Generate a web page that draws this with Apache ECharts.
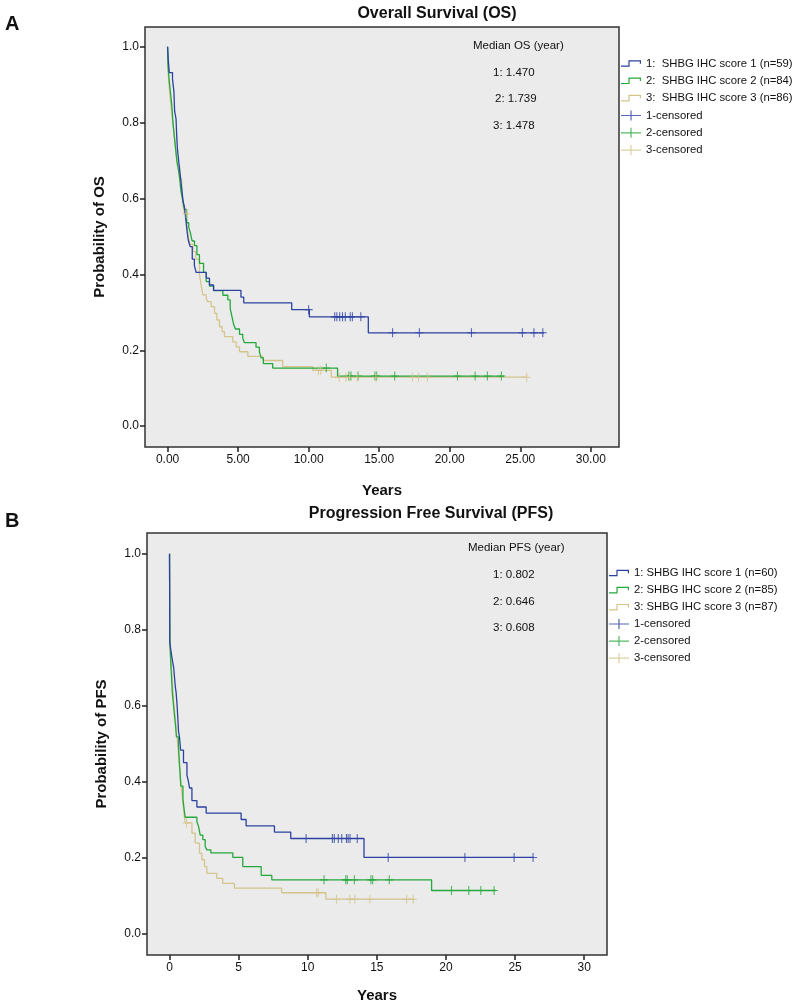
<!DOCTYPE html>
<html><head><meta charset="utf-8">
<script src="https://cdn.jsdelivr.net/npm/echarts@6/dist/echarts.min.js"></script>
<style>html,body{margin:0;padding:0;background:#fff}#c{width:794px;height:1007px}</style>
</head><body><div id="c"></div>
<script>
// ---------- DATA ----------
const groupNamesOS = ['1:  SHBG IHC score 1 (n=59)', '2:  SHBG IHC score 2 (n=84)', '3:  SHBG IHC score 3 (n=86)'];
const groupNamesPFS = ['1: SHBG IHC score 1 (n=60)', '2: SHBG IHC score 2 (n=85)', '3: SHBG IHC score 3 (n=87)'];
const censorNames = ['1-censored', '2-censored', '3-censored'];
const medianOS = ['1: 1.470', '2: 1.739', '3: 1.478'];
const medianPFS = ['1: 0.802', '2: 0.646', '3: 0.608'];
const xTicks = [0, 5, 10, 15, 20, 25, 30];
const yTicks = [0, 0.2, 0.4, 0.6, 0.8, 1.0];

// Overall survival: [years, survival probability]
const osBlue = [[0,1.0],[0.05,0.966],[0.12,0.932],[0.35,0.915],[0.45,0.881],[0.5,0.83],[0.6,0.81],[0.65,0.763],[0.7,0.73],[0.8,0.695],[0.9,0.661],[1.0,0.627],[1.1,0.593],[1.2,0.576],[1.3,0.542],[1.4,0.508],[1.47,0.49],[1.6,0.473],[1.75,0.44],[1.9,0.423],[2.03,0.405],[2.74,0.39],[2.97,0.372],[3.26,0.358],[5.2,0.34],[5.4,0.325],[8.8,0.307],[10.05,0.288],[14.23,0.246],[26.7,0.246]];
const osGreen = [[0,1.0],[0.03,0.952],[0.1,0.917],[0.2,0.881],[0.3,0.845],[0.38,0.8],[0.45,0.774],[0.55,0.738],[0.65,0.702],[0.75,0.679],[0.85,0.655],[0.95,0.619],[1.08,0.595],[1.2,0.571],[1.35,0.536],[1.5,0.524],[1.6,0.512],[1.739,0.488],[1.91,0.476],[2.08,0.452],[2.26,0.429],[2.55,0.405],[2.74,0.381],[2.97,0.369],[3.26,0.357],[3.92,0.345],[4.27,0.333],[4.44,0.31],[4.58,0.286],[4.67,0.27],[4.81,0.256],[5.1,0.242],[5.33,0.232],[5.45,0.22],[6.27,0.208],[6.51,0.196],[6.63,0.18],[6.79,0.165],[7.45,0.153],[12.05,0.132],[23.85,0.132]];
const osTan = [[0,1.0],[0.03,0.942],[0.1,0.9],[0.2,0.86],[0.3,0.826],[0.4,0.79],[0.5,0.756],[0.6,0.72],[0.7,0.686],[0.85,0.651],[1.0,0.616],[1.1,0.581],[1.2,0.56],[1.35,0.535],[1.478,0.497],[1.6,0.479],[1.8,0.46],[2.0,0.44],[2.26,0.40],[2.38,0.372],[2.5,0.346],[2.74,0.337],[2.85,0.328],[3.09,0.315],[3.33,0.297],[3.49,0.28],[3.68,0.262],[3.87,0.249],[4.03,0.236],[4.62,0.222],[4.86,0.209],[5.1,0.196],[5.69,0.184],[6.75,0.173],[8.16,0.157],[10.29,0.147],[11.6,0.129],[25.46,0.129]];
const osBlueCens = [[10.0,0.307],[11.85,0.288],[12.0,0.288],[12.2,0.288],[12.4,0.288],[12.6,0.288],[12.95,0.288],[13.1,0.288],[13.7,0.288],[15.95,0.246],[17.85,0.246],[21.54,0.246],[25.15,0.246],[25.97,0.246],[26.6,0.246]];
const osGreenCens = [[11.25,0.153],[12.85,0.132],[13.0,0.132],[13.5,0.132],[14.7,0.132],[14.82,0.132],[16.1,0.132],[20.55,0.132],[21.8,0.132],[22.67,0.132],[23.66,0.132]];
const osTanCens = [[1.32,0.56],[10.7,0.147],[10.85,0.147],[12.17,0.129],[12.65,0.129],[12.9,0.129],[13.45,0.129],[14.77,0.129],[17.36,0.129],[17.79,0.129],[18.42,0.129],[25.46,0.129]];

// Progression free survival
const pfsBlue = [[0,1.0],[0.02,0.767],[0.08,0.75],[0.15,0.733],[0.22,0.717],[0.3,0.7],[0.34,0.683],[0.42,0.65],[0.48,0.633],[0.55,0.6],[0.6,0.567],[0.65,0.533],[0.72,0.517],[0.802,0.483],[1.01,0.45],[1.26,0.417],[1.37,0.4],[1.45,0.383],[1.62,0.35],[1.98,0.333],[2.65,0.317],[5.18,0.3],[5.54,0.283],[7.59,0.267],[8.77,0.25],[14.07,0.2],[26.35,0.2]];
const pfsGreen = [[0,1.0],[0.02,0.776],[0.06,0.741],[0.1,0.706],[0.15,0.671],[0.2,0.635],[0.29,0.6],[0.35,0.576],[0.42,0.553],[0.5,0.518],[0.646,0.494],[0.7,0.459],[0.76,0.424],[0.82,0.388],[0.97,0.353],[1.05,0.329],[1.13,0.306],[1.98,0.294],[2.1,0.282],[2.22,0.259],[2.41,0.247],[2.58,0.229],[2.7,0.22],[2.99,0.212],[4.58,0.2],[5.3,0.176],[6.63,0.153],[7.4,0.141],[18.96,0.113],[23.6,0.113]];
const pfsTan = [[0,1.0],[0.02,0.77],[0.08,0.724],[0.15,0.69],[0.22,0.655],[0.3,0.609],[0.4,0.575],[0.5,0.529],[0.608,0.494],[0.7,0.448],[0.8,0.402],[0.9,0.368],[1.0,0.333],[1.1,0.299],[1.15,0.291],[1.62,0.264],[1.86,0.238],[2.17,0.211],[2.34,0.194],[2.53,0.176],[2.7,0.158],[3.42,0.145],[3.85,0.132],[4.69,0.119],[8.11,0.107],[11.31,0.09],[17.75,0.09]];
const pfsBlueCens = [[9.88,0.25],[11.78,0.25],[11.92,0.25],[12.21,0.25],[12.46,0.25],[12.8,0.25],[12.92,0.25],[13.06,0.25],[13.58,0.25],[15.82,0.2],[21.37,0.2],[24.93,0.2],[26.3,0.2]];
const pfsGreenCens = [[11.18,0.141],[12.75,0.141],[12.86,0.141],[13.37,0.141],[14.57,0.141],[14.7,0.141],[15.9,0.141],[20.4,0.113],[21.65,0.113],[22.52,0.113],[23.48,0.113]];
const pfsTanCens = [[1.23,0.291],[10.64,0.107],[10.76,0.107],[12.08,0.09],[13.05,0.09],[13.41,0.09],[14.5,0.09],[17.15,0.09],[17.63,0.09]];

// ---------- STYLE ----------
const COLORS = ['#2b42a2', '#25a83b', '#d4c48c'];
const FONT = 'Arial, "Liberation Sans", sans-serif';
const PLUS = 'path://M-0.6,-5H0.6V-0.6H4.5V0.6H0.6V5H-0.6V0.6H-4.5V-0.6H-0.6Z';
const STEP_ICON = 'path://M0,5.4H7.4V0H20V3.5H18.8V1.2H8.6V6.6H0Z';
const CENS_ICON = 'path://M0,4.4H9.4V0H10.6V4.4H20V5.6H10.6V10H9.4V5.6H0Z';

function xAxis(gi, min, max, fmt, nameGap) {
  return {
    type: 'value', gridIndex: gi, min, max,
    name: 'Years', nameLocation: 'middle', nameGap,
    nameTextStyle: {fontFamily: FONT, fontSize: 15, fontWeight: 'bold', color: '#111'},
    axisLine: {show: false, onZero: false},
    axisTick: {show: true, length: 5, lineStyle: {color: '#222', width: 1.5}, customValues: xTicks},
    axisLabel: {customValues: xTicks, formatter: fmt, margin: 7, fontFamily: FONT, fontSize: 12, color: '#111'},
    splitLine: {show: false}
  };
}
function yAxis(gi, min, max, name) {
  return {
    type: 'value', gridIndex: gi, min, max,
    name, nameLocation: 'middle', nameGap: 38,
    nameTextStyle: {fontFamily: FONT, fontSize: 15, fontWeight: 'bold', color: '#111'},
    axisLine: {show: false, onZero: false},
    axisTick: {show: true, length: 5, lineStyle: {color: '#222', width: 1.5}, customValues: yTicks},
    axisLabel: {customValues: yTicks, formatter: v => v.toFixed(1), margin: 6, fontFamily: FONT, fontSize: 12, color: '#111'},
    splitLine: {show: false}
  };
}
function curve(name, data, ci, gi) {
  return {type: 'line', name, data, step: 'end', xAxisIndex: gi, yAxisIndex: gi, showSymbol: false, symbol: 'none',
    lineStyle: {color: COLORS[ci], width: 1.3}, itemStyle: {color: COLORS[ci]}, animation: false, z: 3 - ci};
}
function cens(name, data, ci, gi) {
  return {type: 'scatter', name, data, xAxisIndex: gi, yAxisIndex: gi, symbol: PLUS, symbolSize: [8, 9],
    itemStyle: {color: COLORS[ci]}, animation: false, z: 5};
}
function legend(names, left, top, icon, h, gap, fmt) {
  return {orient: 'vertical', left, top, padding: 0, itemWidth: 20, itemHeight: h, itemGap: gap, selectedMode: false,
    icon, itemStyle: {borderWidth: 0}, data: names.map(n => ({name: n, icon})),
    formatter: fmt || (n => n),
    textStyle: {fontFamily: FONT, fontSize: 11.3, color: '#111'}};
}
function txt(text, x, y, size, bold, align) {
  return {type: 'text', x, y, style: {text, font: (bold ? 'bold ' : '') + size + 'px ' + FONT, fill: '#111', verticalAlign: 'middle', align: align || 'left'}};
}

const bNames = censorNames.map(n => 'B' + n);

const option = {
  backgroundColor: '#fff',
  animation: false,
  grid: [
    {left: 145, top: 27, width: 474, height: 420, show: true, backgroundColor: '#ebebeb', borderColor: '#333', borderWidth: 1.5},
    {left: 147, top: 533, width: 460, height: 422, show: true, backgroundColor: '#ebebeb', borderColor: '#333', borderWidth: 1.5}
  ],
  xAxis: [
    xAxis(0, -1.6, 32, v => v.toFixed(2), 36),
    xAxis(1, -1.63, 31.65, v => String(v), 33)
  ],
  yAxis: [
    yAxis(0, -0.055, 1.052, 'Probability of OS'),
    yAxis(1, -0.057, 1.055, 'Probability of PFS')
  ],
  legend: [
    legend(groupNamesOS, 621, 58, STEP_ICON, 6.6, 6.3),
    legend(censorNames, 621, 110, CENS_ICON, 10, 6.3),
    legend(groupNamesPFS, 609, 567.5, STEP_ICON, 6.6, 6.1),
    legend(bNames, 609, 618.5, CENS_ICON, 10, 6.1, n => n.slice(1))
  ],
  series: [
    curve(groupNamesOS[2], osTan, 2, 0),
    curve(groupNamesOS[1], osGreen, 1, 0),
    curve(groupNamesOS[0], osBlue, 0, 0),
    cens(censorNames[0], osBlueCens, 0, 0),
    cens(censorNames[1], osGreenCens, 1, 0),
    cens(censorNames[2], osTanCens, 2, 0),
    curve(groupNamesPFS[2], pfsTan, 2, 1),
    curve(groupNamesPFS[1], pfsGreen, 1, 1),
    curve(groupNamesPFS[0], pfsBlue, 0, 1),
    cens(bNames[0], pfsBlueCens, 0, 1),
    cens(bNames[1], pfsGreenCens, 1, 1),
    cens(bNames[2], pfsTanCens, 2, 1)
  ],
  graphic: [
    txt('A', 5, 24, 20, true),
    txt('Overall Survival (OS)', 437, 14, 16, true, 'center'),
    txt('Median OS (year)', 473, 46, 11.5, false),
    txt(medianOS[0], 493, 72.7, 11.5, false),
    txt(medianOS[1], 495, 99, 11.5, false),
    txt(medianOS[2], 493, 125.7, 11.5, false),
    txt('B', 5, 521, 20, true),
    txt('Progression Free Survival (PFS)', 431, 514, 16, true, 'center'),
    txt('Median PFS (year)', 468, 548, 11.5, false),
    txt(medianPFS[0], 493, 575, 11.5, false),
    txt(medianPFS[1], 493, 602, 11.5, false),
    txt(medianPFS[2], 493, 628, 11.5, false)
  ]
};

const chart = echarts.init(document.getElementById('c'), null, {renderer: 'canvas', width: 794, height: 1007});
chart.setOption(option);
</script></body></html>
